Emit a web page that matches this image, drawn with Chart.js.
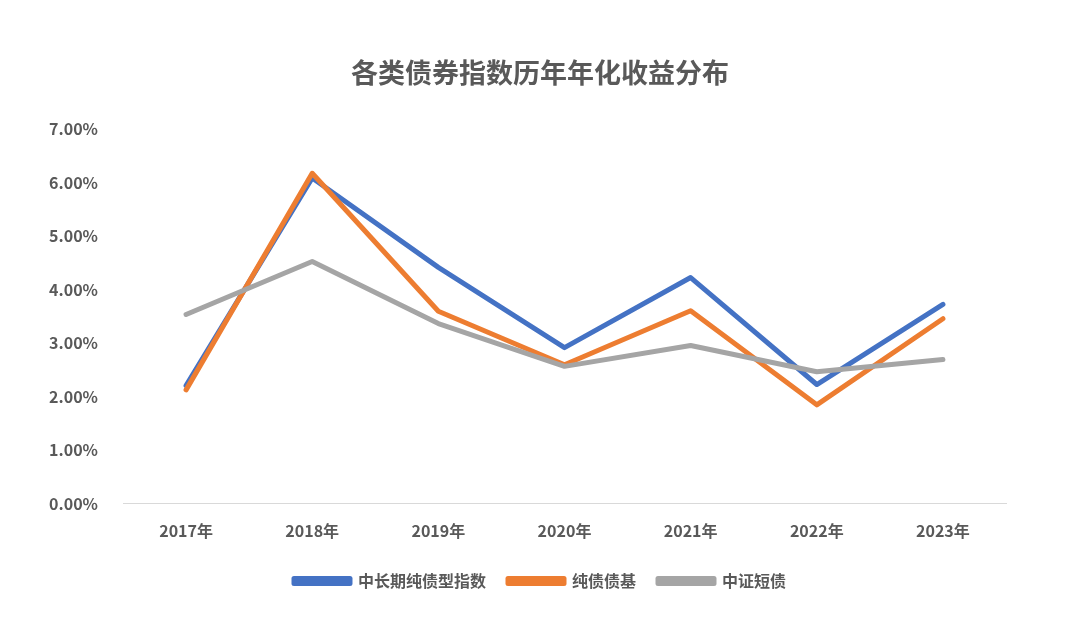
<!DOCTYPE html>
<html>
<head>
<meta charset="utf-8">
<script src="https://cdn.jsdelivr.net/npm/chart.js@4.4.0/dist/chart.umd.min.js"></script>
<style>
  html, body { margin: 0; padding: 0; background: #fff; }
  #wrap { width: 1080px; height: 625px; }
</style>
</head>
<body>
<div id="wrap"><canvas id="chart" width="1080" height="625"></canvas></div>
<script>
// 数据
const years = ['2017年', '2018年', '2019年', '2020年', '2021年', '2022年', '2023年'];
const longBond = [2.21, 6.09, 4.42, 2.92, 4.23, 2.23, 3.73];
const pureBondFund = [2.13, 6.18, 3.60, 2.60, 3.61, 1.85, 3.46];
const shortBond = [3.54, 4.53, 3.37, 2.57, 2.96, 2.47, 2.70];

const fontFamily = '"Noto Sans CJK SC", "Noto Sans", sans-serif';
const textColor = '#595959';

function series(label, data, color, order) {
    return {
        label: label,
        data: data,
        borderColor: color,
        backgroundColor: color,
        borderWidth: 5,
        pointRadius: 0,
        tension: 0,
        borderCapStyle: 'round',
        borderJoinStyle: 'round',
        order: order
    };
}

const ctx = document.getElementById('chart').getContext('2d');
new Chart(ctx, {
    type: 'line',
    data: {
        labels: years,
        datasets: [
            series('中长期纯债型指数', longBond, '#4472C4', 3),
            series('纯债债基', pureBondFund, '#ED7D31', 2),
            series('中证短债', shortBond, '#A5A5A5', 1)
        ]
    },
    options: {
        responsive: false,
        animation: false,
        layout: { padding: { left: 30, right: 30, top: 57, bottom: 26 } },
        plugins: {
            title: {
                display: true,
                text: '各类债券指数历年年化收益分布',
                color: textColor,
                font: { family: fontFamily, size: 27, weight: 'bold' },
                padding: { top: 0, bottom: 40 }
            },
            legend: {
                position: 'bottom',
                labels: {
                    color: textColor,
                    font: { family: fontFamily, size: 16, weight: 'bold' },
                    boxWidth: 56,
                    boxHeight: 5,
                    padding: 22,
                    sort: (a, b) => a.datasetIndex - b.datasetIndex
                }
            },
            tooltip: { enabled: false }
        },
        scales: {
            x: {
                offset: true,
                grid: { display: false },
                border: { display: true, color: '#d9d9d9', width: 1 },
                ticks: {
                    color: textColor,
                    font: { family: fontFamily, size: 16, weight: 'bold' },
                    padding: 10
                }
            },
            y: {
                min: 0,
                max: 7,
                grid: { display: false },
                border: { display: false },
                afterFit: s => { s.width = 93; },
                ticks: {
                    stepSize: 1,
                    color: textColor,
                    font: { family: fontFamily, size: 16, weight: 'bold' },
                    padding: 17,
                    callback: v => v.toFixed(2) + '%'
                }
            },
            // 右侧留白
            yRight: {
                type: 'linear',
                position: 'right',
                grid: { display: false },
                border: { display: false },
                ticks: { display: false },
                afterFit: s => { s.width = 44; }
            }
        }
    }
});
</script>
</body>
</html>
